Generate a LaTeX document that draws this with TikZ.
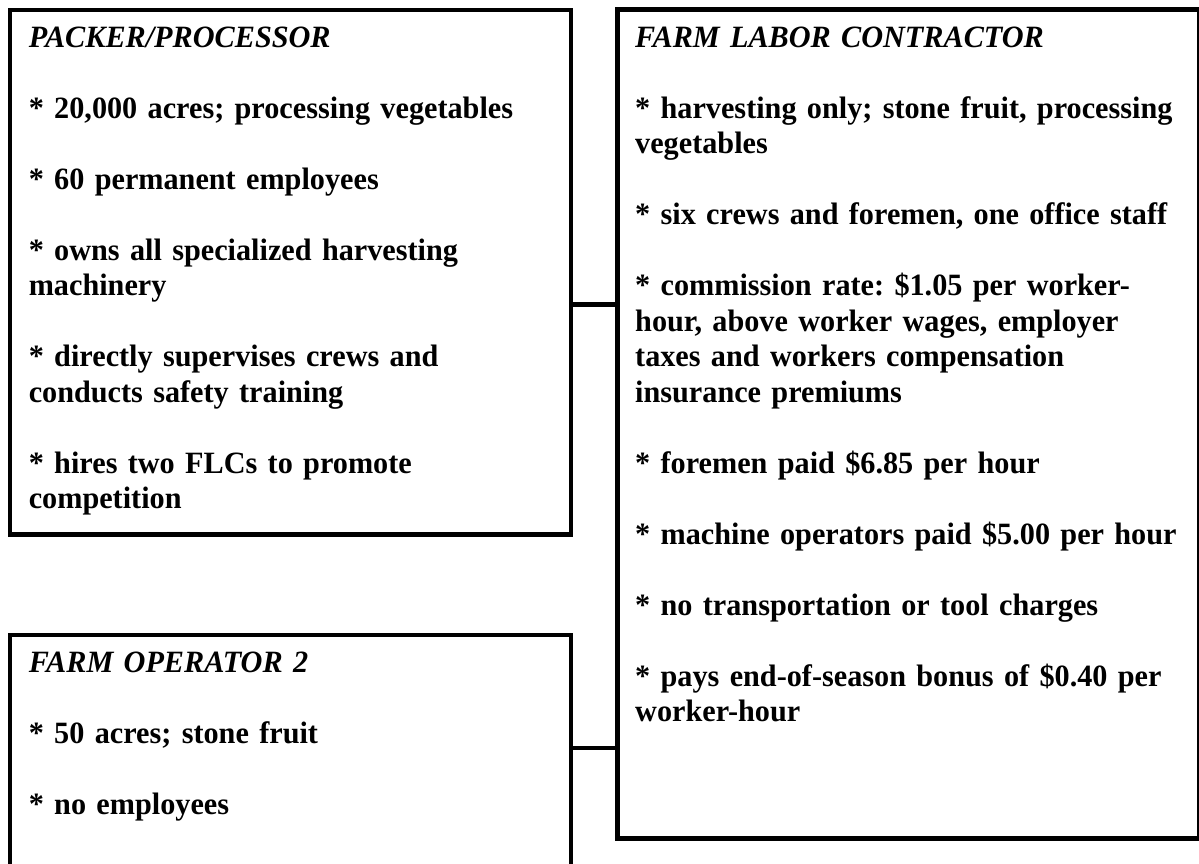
\documentclass[tikz,border=0pt]{standalone}
\usepackage{fontspec}
\setmainfont{Liberation Serif}[FakeStretch=0.975]
\frenchspacing
\begin{document}
\begin{tikzpicture}[x=1pt,y=1pt,
  boxframe/.style={draw=black, line width=4.6pt, rectangle, inner sep=0pt, anchor=north west},
  boxtext/.style={anchor=north west, inner sep=0pt, align=left, text width=#1,
    font=\fontsize{31}{35.5}\selectfont\bfseries\frenchspacing},
  link/.style={draw=black, line width=4.6pt}]
\clip (0,0) rectangle (1199,-863);
\fill[white] (0,0) rectangle (1199,-863);
% frames
\node[boxframe, minimum width=561pt, minimum height=524.5pt] (pp) at (7.5,-7.5) {};
\node[boxframe, minimum width=561pt, minimum height=280pt] (fo) at (7.5,-632.5) {};
\node[boxframe, minimum width=582pt, minimum height=829pt] (flc) at (615,-7) {};
% texts
\node[boxtext=600pt] (pptext) at (28.6,-22.15) {\strut\textit{PACKER/PROCESSOR}\\[35.5pt]
* 20,000 acres; processing vegetables\\[35.5pt]
* 60 permanent employees\\[35.5pt]
* owns all specialized harvesting\\
machinery\\[35.5pt]
* directly supervises crews and\\
conducts safety training\\[35.5pt]
* hires two FLCs to promote\\
competition};
\node[boxtext=600pt] (fotext) at (28.6,-647.15) {\strut\textit{FARM OPERATOR 2}\\[35.5pt]
* 50 acres; stone fruit\\[35.5pt]
* no employees};
\node[boxtext=620pt] (flctext) at (635,-22.15) {\strut\textit{FARM LABOR CONTRACTOR}\\[35.5pt]
* harvesting only; stone fruit, processing\\
vegetables\\[35.5pt]
* six crews and foremen, one office staff\\[35.5pt]
* commission rate: \$1.05 per worker-\\
hour, above worker wages, employer\\
taxes and workers compensation\\
insurance premiums\\[35.5pt]
* foremen paid \$6.85 per hour\\[35.5pt]
* machine operators paid \$5.00 per hour\\[35.5pt]
* no transportation or tool charges\\[35.5pt]
* pays end-of-season bonus of \$0.40 per\\
worker-hour};
% connectors
\coordinate (c1) at (0,-304.5);
\coordinate (c2) at (0,-748);
\draw[link] (c1 -| pp.east) -- (c1 -| flc.west);
\draw[link] (c2 -| fo.east) -- (c2 -| flc.west);
\end{tikzpicture}
\end{document}
